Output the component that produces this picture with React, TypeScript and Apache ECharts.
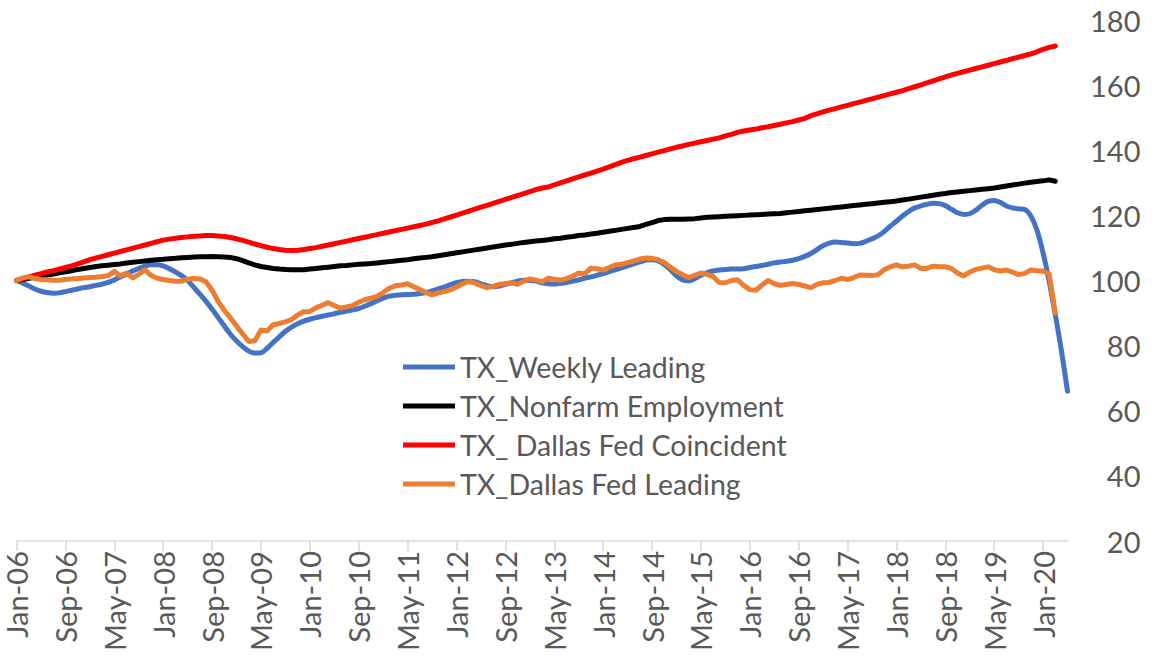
import React, { useEffect, useRef } from "react";
import * as echarts from "echarts";

const MONTHS = ["Jan", "Feb", "Mar", "Apr", "May", "Jun", "Jul", "Aug", "Sep", "Oct", "Nov", "Dec"];
const START_YEAR = 2006;
const MONTH_COUNT = 173; // Jan-06 .. May-20
const categories: string[] = [];
for (let i = 0; i < MONTH_COUNT; i++) {
  const y = START_YEAR + Math.floor(i / 12);
  categories.push(MONTHS[i % 12] + "-" + String(y % 100).padStart(2, "0"));
}

const yTicks = { min: 20, max: 180, interval: 20 };

const weeklyLeading = [
  100, 99.2, 98.3, 97.4, 96.7, 96.3, 96.1, 96.2, 96.6, 97.0, 97.4, 97.8, 98.1,
  98.5, 98.9, 99.4, 100.2, 101.1, 102.0, 102.9, 103.7, 104.4, 104.8, 104.8, 104.5,
  103.6, 102.6, 101.5, 100.0, 97.9, 95.8, 93.6, 91.2, 88.6, 86.0, 83.5, 81.4,
  79.7, 78.3, 77.7, 77.8, 79.2, 81.0, 82.7, 84.4, 85.7, 86.7, 87.5, 88.1,
  88.6, 89.0, 89.4, 89.8, 90.2, 90.6, 91.0, 91.4, 92.1, 92.9, 93.8, 94.6,
  95.2, 95.5, 95.6, 95.7, 95.8, 96.0, 96.3, 96.8, 97.4, 98.0, 98.7, 99.3,
  99.7, 99.8, 99.6, 99.0, 98.4, 98.1, 98.3, 98.8, 99.3, 99.8, 100.1, 100.0,
  99.8, 99.3, 99.0, 98.9, 99.1, 99.4, 99.8, 100.2, 100.7, 101.1, 101.6, 102.1,
  102.7, 103.3, 103.9, 104.5, 105.1, 105.7, 106.3, 106.4, 106.0, 104.9, 103.3, 101.4,
  100.2, 99.9, 100.6, 101.6, 102.4, 102.9, 103.2, 103.4, 103.5, 103.5, 103.6, 104.0,
  104.3, 104.6, 105.0, 105.4, 105.7, 105.9, 106.2, 106.7, 107.4, 108.3, 109.5, 110.7,
  111.5, 111.8, 111.7, 111.5, 111.3, 111.4, 112.0, 112.8, 113.7, 115.0, 116.7, 118.2,
  119.8, 121.2, 122.3, 122.9, 123.4, 123.7, 123.6, 123.0, 121.9, 120.8, 120.3, 120.5,
  121.6, 123.1, 124.3, 124.6, 124.0, 122.9, 122.3, 122.0, 121.8, 119.8, 115.5, 108.5,
  99.8, 89.5, 78.5, 66.0,
];

const nonfarmEmployment = [
  100, 100.3, 100.7, 101.0, 101.4, 101.7, 102.0, 102.4, 102.7, 103.0, 103.4, 103.7, 104.0,
  104.3, 104.5, 104.7, 104.9, 105.1, 105.4, 105.6, 105.8, 106.0, 106.2, 106.4, 106.5,
  106.7, 106.8, 107.0, 107.1, 107.2, 107.3, 107.3, 107.4, 107.3, 107.2, 107.1, 106.7,
  106.1, 105.4, 104.8, 104.3, 104.0, 103.7, 103.5, 103.4, 103.3, 103.3, 103.3, 103.5,
  103.7, 103.9, 104.1, 104.3, 104.5, 104.6, 104.8, 105.0, 105.1, 105.2, 105.4, 105.6,
  105.8, 106.0, 106.2, 106.4, 106.7, 106.9, 107.1, 107.3, 107.6, 107.9, 108.2, 108.5,
  108.8, 109.1, 109.4, 109.7, 110.0, 110.3, 110.6, 110.9, 111.1, 111.4, 111.7, 111.9,
  112.1, 112.3, 112.5, 112.8, 113.0, 113.3, 113.5, 113.8, 114.0, 114.3, 114.5, 114.8,
  115.1, 115.4, 115.7, 116.0, 116.3, 116.6, 117.2, 117.8, 118.4, 118.7, 118.8, 118.8,
  118.8, 118.9, 119.0, 119.2, 119.4, 119.5, 119.6, 119.7, 119.8, 119.9, 120.0, 120.1,
  120.2, 120.3, 120.4, 120.5, 120.6, 120.8, 121.0, 121.2, 121.4, 121.6, 121.8, 122.0,
  122.2, 122.4, 122.6, 122.8, 123.0, 123.2, 123.4, 123.6, 123.8, 124.0, 124.2, 124.4,
  124.7, 125.0, 125.3, 125.6, 125.9, 126.2, 126.5, 126.7, 127.0, 127.2, 127.4, 127.6,
  127.8, 128.0, 128.2, 128.4, 128.7, 129.0, 129.3, 129.6, 129.9, 130.2, 130.4, 130.6,
  130.9, 130.5,
];

const dallasCoincident = [
  100, 100.5, 101.1, 101.6, 102.1, 102.6, 103.0, 103.5, 104.0, 104.5, 105.1, 105.7, 106.4,
  106.9, 107.4, 107.9, 108.4, 108.9, 109.4, 109.9, 110.4, 110.9, 111.4, 111.9, 112.4,
  112.7, 113.0, 113.2, 113.4, 113.6, 113.7, 113.8, 113.8, 113.7, 113.5, 113.2, 112.8,
  112.3, 111.8, 111.2, 110.7, 110.2, 109.8, 109.5, 109.3, 109.2, 109.3, 109.5, 109.8,
  110.1, 110.5, 110.9, 111.3, 111.7, 112.1, 112.5, 112.9, 113.3, 113.7, 114.1, 114.5,
  114.9, 115.3, 115.7, 116.1, 116.5, 116.9, 117.3, 117.8, 118.3, 118.9, 119.5, 120.1,
  120.7, 121.3, 121.9, 122.5, 123.1, 123.7, 124.3, 124.9, 125.5, 126.1, 126.7, 127.3,
  127.9, 128.4, 128.7, 129.4, 130.0, 130.6, 131.2, 131.8, 132.4, 133.0, 133.6, 134.2,
  134.9, 135.6, 136.3, 136.9, 137.4, 137.9, 138.4, 138.9, 139.4, 139.9, 140.4, 140.9,
  141.3, 141.8, 142.2, 142.6, 143.0, 143.4, 143.8, 144.4, 144.9, 145.5, 145.9, 146.2,
  146.5, 146.9, 147.2, 147.6, 148.0, 148.4, 148.8, 149.3, 149.8, 150.6, 151.2, 151.8,
  152.3, 152.8, 153.3, 153.8, 154.3, 154.8, 155.3, 155.8, 156.3, 156.8, 157.3, 157.8,
  158.3, 158.9, 159.5, 160.1, 160.7, 161.3, 161.9, 162.5, 163.1, 163.6, 164.1, 164.6,
  165.1, 165.6, 166.1, 166.6, 167.1, 167.6, 168.1, 168.6, 169.1, 169.6, 170.2, 171.0,
  171.6, 172.0,
];

const dallasLeading = [
  100, 100.8, 101.2, 100.6, 100.3, 100.2, 100.1, 100.1, 100.3, 100.5, 100.6, 100.8, 100.9,
  101.0, 101.2, 101.5, 102.8, 101.4, 102.3, 100.8, 101.9, 103.3, 101.6, 100.7, 100.3,
  100.0, 99.8, 99.8, 100.4, 100.6, 100.5, 99.6, 97.0, 93.5, 90.8, 88.5, 86.0,
  83.6, 81.3, 81.5, 84.8, 84.5, 86.4, 86.8, 87.3, 88.0, 89.4, 90.4, 90.5,
  91.6, 92.4, 93.2, 92.3, 91.5, 91.9, 92.3, 93.3, 94.1, 94.6, 95.1, 96.3,
  97.6, 98.4, 98.6, 99.0, 98.1, 97.2, 96.3, 95.6, 96.2, 96.6, 97.1, 98.0,
  99.0, 99.7, 99.2, 98.4, 97.8, 98.2, 98.8, 99.1, 99.3, 98.8, 99.8, 100.5,
  100.1, 99.6, 100.7, 100.4, 100.1, 100.6, 101.3, 102.3, 102.1, 103.8, 103.6, 103.2,
  104.0, 104.8, 105.0, 105.5, 106.0, 106.6, 106.9, 106.8, 106.4, 105.5, 104.1, 102.8,
  101.8, 100.9, 101.6, 102.3, 101.9, 101.2, 99.4, 99.3, 100.0, 100.2, 98.5, 97.2,
  97.0, 98.6, 100.0, 99.0, 98.5, 98.8, 99.1, 98.8, 98.3, 97.8, 98.8, 99.3,
  99.4, 100.0, 100.7, 100.3, 100.9, 101.7, 101.6, 101.5, 101.8, 103.3, 104.2, 104.8,
  104.2, 104.4, 104.8, 103.7, 103.7, 104.4, 104.2, 104.2, 103.7, 102.3, 101.4, 102.6,
  103.4, 103.8, 104.2, 103.3, 102.9, 103.2, 102.6, 101.8, 102.2, 103.2, 103.0, 102.9,
  102.0, 90.0,
];

const seriesNames = [
  "TX_Weekly Leading",
  "TX_Nonfarm Employment",
  "TX_ Dallas Fed Coincident",
  "TX_Dallas Fed Leading",
];
const seriesColors = ["#4472C4", "#000000", "#FF0000", "#ED7D31"];

const FONT = "Lato, 'Noto Sans', sans-serif";
const TEXT_COLOR = "#595959";

export default function App() {
  const ref = useRef<HTMLDivElement>(null);
  useEffect(() => {
    if (!ref.current) return;
    const chart = echarts.init(ref.current, null, { renderer: "svg" });
    const datas = [weeklyLeading, nonfarmEmployment, dallasCoincident, dallasLeading];
    chart.setOption({
      animation: false,
      backgroundColor: "#ffffff",
      textStyle: { fontFamily: FONT },
      grid: { left: 16.6, right: 88.5, top: 20, bottom: 119, containLabel: false },
      legend: {
        orient: "vertical",
        left: 398,
        top: 345,
        icon: "rect",
        itemWidth: 52,
        itemHeight: 5,
        itemGap: 5,
        data: seriesNames,
        textStyle: { color: TEXT_COLOR, fontSize: 28.5, fontFamily: FONT, lineHeight: 34 },
      },
      xAxis: {
        type: "category",
        data: categories,
        boundaryGap: false,
        axisLine: { show: true, lineStyle: { color: "#d9d9d9", width: 1.5 } },
        axisTick: { show: true, interval: 7, length: 10, lineStyle: { color: "#d9d9d9", width: 1.5 } },
        axisLabel: {
          interval: 7,
          rotate: 90,
          margin: 10,
          color: TEXT_COLOR,
          fontSize: 29,
          fontFamily: FONT,
        },
        splitLine: { show: false },
      },
      yAxis: {
        type: "value",
        position: "right",
        min: yTicks.min,
        max: yTicks.max,
        interval: yTicks.interval,
        axisLine: { show: false },
        axisTick: { show: false },
        splitLine: { show: false },
        axisLabel: {
          align: "right",
          margin: 73,
          color: TEXT_COLOR,
          fontSize: 29,
          fontFamily: FONT,
        },
      },
      series: seriesNames.map((name, i) => ({
        name,
        type: "line",
        data: datas[i],
        symbol: "none",
        showSymbol: false,
        smooth: i === 0 ? 0.3 : false,
        itemStyle: { color: seriesColors[i] },
        lineStyle: { color: seriesColors[i], width: 5, cap: "round", join: "round" },
      })),
    });
    return () => chart.dispose();
  }, []);
  return (
    <div
      ref={ref}
      style={{ position: "fixed", left: 0, top: 0, width: 1156, height: 660, background: "#fff" }}
    />
  );
}
